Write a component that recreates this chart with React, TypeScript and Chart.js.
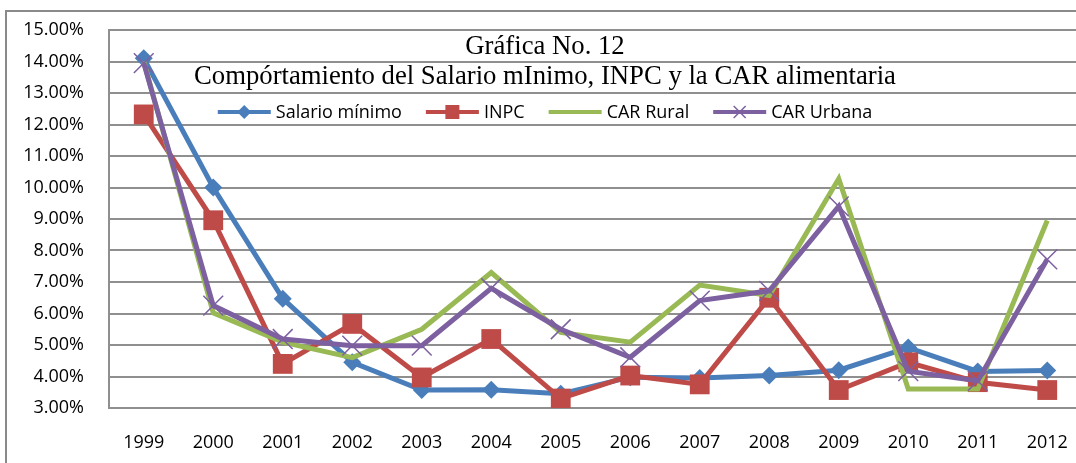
import React, { useEffect, useRef } from 'react';
import { Chart, registerables } from 'chart.js';

Chart.register(...registerables);

const years = ['1999', '2000', '2001', '2002', '2003', '2004', '2005', '2006', '2007', '2008', '2009', '2010', '2011', '2012'];
const salarioMinimo = [14.1, 10.0, 6.47, 4.45, 3.57, 3.58, 3.45, 3.98, 3.95, 4.03, 4.2, 4.92, 4.16, 4.19];
const inpc = [12.32, 8.96, 4.4, 5.67, 3.97, 5.19, 3.3, 4.03, 3.75, 6.5, 3.57, 4.45, 3.82, 3.57];
const carRural = [14.0, 6.02, 5.09, 4.6, 5.5, 7.3, 5.4, 5.09, 6.9, 6.57, 10.28, 3.6, 3.6, 8.95];
const carUrbana = [13.95, 6.25, 5.19, 4.98, 4.98, 6.8, 5.5, 4.61, 6.41, 6.72, 9.4, 4.17, 3.86, 7.72];

const seriesNames = ['Salario mínimo', 'INPC', 'CAR Rural', 'CAR Urbana'];
const seriesColors = ['#4a7ebb', '#be4b48', '#98b954', '#7d60a0'];
const yMin = 3;
const yMax = 15;
const yStep = 1;
const titleLines = ['Gráfica No. 12', 'Compórtamiento del Salario mInimo, INPC y la CAR alimentaria'];

const GRID = '#8f8f8f';

function drawMarker(ctx: CanvasRenderingContext2D, kind: string, x: number, y: number, color: string) {
  ctx.save();
  ctx.fillStyle = color;
  ctx.strokeStyle = color;
  if (kind === 'diamond') {
    const r = 7;
    ctx.beginPath();
    ctx.moveTo(x, y - r);
    ctx.lineTo(x + r, y);
    ctx.lineTo(x, y + r);
    ctx.lineTo(x - r, y);
    ctx.closePath();
    ctx.fill();
  } else if (kind === 'square') {
    const h = 7;
    ctx.fillRect(x - h, y - h, 2 * h, 2 * h);
  } else if (kind === 'cross') {
    const h = 6;
    ctx.lineWidth = 1.5;
    ctx.beginPath();
    ctx.moveTo(x - h, y - h);
    ctx.lineTo(x + h, y + h);
    ctx.moveTo(x + h, y - h);
    ctx.lineTo(x - h, y + h);
    ctx.stroke();
  }
  ctx.restore();
}

const framePlugin = {
  id: 'frame',
  beforeDraw(chart: any) {
    const ctx = chart.ctx as CanvasRenderingContext2D;
    ctx.save();
    ctx.fillStyle = '#ffffff';
    ctx.fillRect(0, 0, chart.width, chart.height);
    ctx.strokeStyle = '#8a8a8a';
    ctx.lineWidth = 2;
    ctx.strokeRect(6, 11, chart.width + 50, chart.height + 50);
    ctx.restore();
  },
};

const overlayPlugin = {
  id: 'overlay',
  afterDraw(chart: any) {
    const ctx = chart.ctx as CanvasRenderingContext2D;
    const cx = 545;
    ctx.save();
    ctx.fillStyle = '#000000';
    ctx.textAlign = 'center';
    ctx.textBaseline = 'alphabetic';
    ctx.font = '26.7px "Liberation Serif", "Times New Roman", serif';
    ctx.fillText(titleLines[0], cx, 54);
    ctx.fillText(titleLines[1], cx, 84);

    // legend
    ctx.font = '18px "Open Sans", sans-serif';
    ctx.textAlign = 'left';
    ctx.textBaseline = 'middle';
    const lineLen = 53;
    const gapText = 5;
    const gapItem = 24;
    const widths = seriesNames.map((n) => ctx.measureText(n).width);
    let total = 0;
    widths.forEach((w, i) => {
      total += lineLen + gapText + w + (i < widths.length - 1 ? gapItem : 0);
    });
    let x = cx - total / 2;
    const ly = 112;
    const kinds = ['diamond', 'square', 'none', 'cross'];
    seriesNames.forEach((name, i) => {
      ctx.strokeStyle = seriesColors[i];
      ctx.lineWidth = 4;
      ctx.beginPath();
      ctx.moveTo(x, ly);
      ctx.lineTo(x + lineLen, ly);
      ctx.stroke();
      drawMarker(ctx, kinds[i], x + lineLen / 2, ly, seriesColors[i]);
      ctx.fillStyle = '#000000';
      ctx.fillText(name, x + lineLen + gapText, ly + 1);
      x += lineLen + gapText + widths[i] + gapItem;
    });
    ctx.restore();
  },
};

export default function App() {
  const canvasRef = useRef<HTMLCanvasElement | null>(null);

  useEffect(() => {
    const canvas = canvasRef.current;
    if (!canvas) return;
    const chart = new Chart(canvas, {
      type: 'line',
      data: {
        labels: years,
        datasets: [
          {
            label: seriesNames[0],
            data: salarioMinimo,
            borderColor: seriesColors[0],
            backgroundColor: seriesColors[0],
            borderWidth: 5,
            pointStyle: 'rectRot',
            pointRadius: 9,
            pointBorderWidth: 0,
            tension: 0,
            order: 4,
          },
          {
            label: seriesNames[1],
            data: inpc,
            borderColor: seriesColors[1],
            backgroundColor: seriesColors[1],
            borderWidth: 5,
            pointStyle: 'rect',
            pointRadius: 14,
            pointBorderWidth: 0,
            tension: 0,
            order: 3,
          },
          {
            label: seriesNames[2],
            data: carRural,
            borderColor: seriesColors[2],
            backgroundColor: seriesColors[2],
            borderWidth: 5,
            pointRadius: 0,
            tension: 0,
            order: 2,
          },
          {
            label: seriesNames[3],
            data: carUrbana,
            borderColor: seriesColors[3],
            backgroundColor: seriesColors[3],
            borderWidth: 5,
            pointStyle: 'crossRot',
            pointRadius: 14,
            pointBorderWidth: 1.5,
            pointBorderColor: seriesColors[3],
            tension: 0,
            order: 1,
          },
        ],
      },
      options: {
        responsive: false,
        animation: false,
        devicePixelRatio: 1,
        layout: { padding: { left: 0, top: 30, right: 18, bottom: 22 } },
        plugins: {
          legend: { display: false },
          title: { display: false },
          tooltip: { enabled: false },
        },
        scales: {
          x: {
            offset: true,
            grid: { display: false, drawTicks: false },
            border: { display: true, color: GRID, width: 2 },
            ticks: {
              color: '#000000',
              font: { family: '"Open Sans", sans-serif', size: 18 },
              padding: 24,
              maxRotation: 0,
              autoSkip: false,
            },
            afterFit(scale: any) {
              scale.height = 50;
            },
          },
          y: {
            min: yMin,
            max: yMax,
            grid: { color: GRID, lineWidth: 2, drawTicks: false },
            border: { display: true, color: GRID, width: 2 },
            ticks: {
              stepSize: yStep,
              color: '#000000',
              font: { family: '"Open Sans", sans-serif', size: 18 },
              padding: 25,
              callback: (v: any) => Number(v).toFixed(2) + '%',
            },
            afterFit(scale: any) {
              scale.width = 109;
              scale.paddingTop = 10;
              scale.paddingBottom = 10;
            },
          },
        },
      },
      plugins: [framePlugin, overlayPlugin],
    });
    return () => chart.destroy();
  }, []);

  return (
    <div style={{ position: 'fixed', left: 0, top: 0, width: 1076, height: 463, overflow: 'hidden', background: '#fff' }}>
      <canvas ref={canvasRef} width={1100} height={480} style={{ position: 'absolute', left: 0, top: 0 }} />
    </div>
  );
}
